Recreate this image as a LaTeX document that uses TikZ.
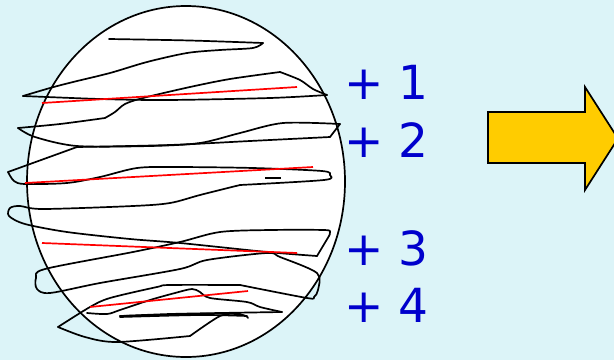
\documentclass[tikz,border=0pt]{standalone}
\usepackage{fontspec}
\newfontfamily\numfont{DejaVu Sans}
\definecolor{bg}{RGB}{220,244,248}
\definecolor{txtblue}{RGB}{0,0,204}
\definecolor{arrowyellow}{RGB}{255,204,0}
\begin{document}
\begin{tikzpicture}[x=1pt,y=-1pt,
  scrib/.style={black,line width=1.7pt,line join=round,line cap=round},
  redl/.style={red,line width=1.7pt},
  lbl/.style={text=txtblue,font=\numfont\fontsize{47}{50}\selectfont,anchor=base west,inner sep=0pt},
  sm/.style={smooth,tension=.5}]
\useasboundingbox (0,0) rectangle (614,360);
\clip (0,0) rectangle (614,360);
\fill[bg] (0,0) rectangle (614,360);
% body
\draw[line width=1.7pt, fill=white] (186,181.5) ellipse [x radius=159, y radius=175.5];
% scribble
\draw[scrib] plot[sm] coordinates {(109,39) (190,40.5) (263,43)};
\draw[scrib] plot[sm] coordinates {(263,43) (253,48) (220,50) (187,53) (147,62) (110,73) (73,82) (50,88) (23,96)};
\draw[scrib] plot[sm] coordinates {(23,96) (100,99) (167,100) (270,98) (327,95)};
\draw[scrib] plot[sm] coordinates {(327,95) (313,89) (300,80) (280,72)};
\draw[scrib] plot[sm] coordinates {(280,72) (230,79) (190,87) (143,98) (125,104) (115,112) (105,118)};
\draw[scrib] plot[sm] coordinates {(105,118) (60,124) (18,128)};
\draw[scrib] plot[sm] coordinates {(18,128) (35,137) (77,146) (150,146) (200,143) (240,133) (283,123) (340,124)};
\draw[scrib] (340,124) -- (330,137);
\draw[scrib] plot[sm] coordinates {(330,137) (250,141) (170,145) (77,147)};
\draw[scrib] (77,147) -- (8,172);
\draw[scrib] plot[sm] coordinates {(8,172) (14,181) (25,184) (67,183) (100,177) (137,168) (175,167) (253,168) (322,171) (330,175) (324,180) (240,185)};
\draw[scrib] plot[sm] coordinates {(240,185) (200,195) (170,203) (133,206) (43,209) (20,206) (10,208) (9,216) (25,224) (67,232) (130,239) (180,243) (267,252) (317,256)};
\draw[scrib] (317,256) -- (329,236);
\draw[scrib] plot[sm] coordinates {(329,236) (330,232) (324,230) (270,230) (220,232) (180,242) (133,252) (45,269) (36,278) (37,289) (50,293) (100,283) (180,269) (207,260) (267,253) (280,257) (317,273) (318,290) (314,297) (307,298) (240,285)};
\draw[scrib] plot[sm] coordinates {(240,285) (170,285) (157,287) (110,298) (90,307) (58,327)};
\draw[scrib] plot[sm] coordinates {(58,327) (85,337) (117,342) (190,336)};
\draw[scrib] plot[sm] coordinates {(190,336) (220,316) (237,314) (246,316) (248,318)};
\draw[scrib] plot[sm] coordinates {(247,316) (200,315) (120,317)};
\draw[scrib] plot[sm] coordinates {(120,316) (200,314) (240,313)};
\draw[scrib] plot[sm] coordinates {(87,313) (107,314) (120,310) (150,300) (175,293) (192,289) (200,292) (210,298) (247,302) (260,307) (282,312)};
\draw[scrib] plot[sm] coordinates {(282,312) (220,313) (170,314) (120,316)};
\draw[black,line width=2.2pt] (265,178) -- (281,178);
% red lines
\draw[redl] (42,103) -- (297,87);
\draw[redl] (25,183) -- (313,167);
\draw[redl] (42,243) -- (297,253);
\draw[redl] (90,307) -- (248,291);
% labels
\node[lbl] (p1) at (344,99) {+ 1};
\node[lbl] (p2) at (344,157) {+ 2};
\node[lbl] (p3) at (344,265) {+ 3};
\node[lbl] (p4) at (344,322) {+ 4};
% arrow
\draw[line width=1.7pt, fill=arrowyellow, line join=miter] (488,112) -- (585,112) -- (585,87) -- (618,138.5) -- (585,190) -- (585,163) -- (488,163) -- cycle;
\end{tikzpicture}
\end{document}
